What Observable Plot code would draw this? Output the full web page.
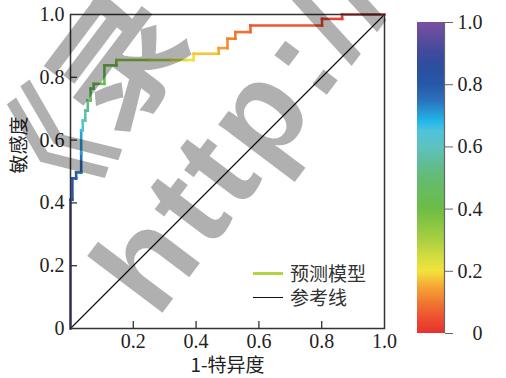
<!DOCTYPE html>
<html><head><meta charset="utf-8">
<script src="https://cdn.jsdelivr.net/npm/d3@7"></script>
<script src="https://cdn.jsdelivr.net/npm/@observablehq/plot@0.6"></script>
<style>
body{margin:0;background:#fff}
#wrap{position:relative;width:506px;height:378px;overflow:hidden;background:#fff}
#wrap svg{position:absolute;top:0;left:0}
#legend{position:absolute;left:253px;top:261px;font-family:'Noto Sans CJK SC',sans-serif;font-size:19px;color:#333;line-height:24px}
#legend .row{display:flex;align-items:center;height:24px}
#legend .sw{width:30px;margin-right:7px}
</style></head><body><div id="wrap"><div id="legend"></div></div>
<script>
// ROC curve vertices (1-specificity, sensitivity) and the threshold at each vertex
const fpr = [0,0,0.006,0.006,0.018,0.018,0.034,0.034,0.034,0.039,0.039,0.047,0.047,0.055,0.055,0.064,0.064,0.074,0.074,0.108,0.108,0.146,0.146,0.25,0.32,0.37,0.392,0.392,0.472,0.472,0.5,0.5,0.525,0.525,0.573,0.573,0.801,0.801,0.865,0.865,1];
const tpr = [0,0.41,0.41,0.478,0.478,0.497,0.497,0.557,0.631,0.631,0.662,0.662,0.694,0.694,0.726,0.726,0.764,0.764,0.779,0.779,0.838,0.838,0.855,0.855,0.855,0.855,0.855,0.875,0.875,0.893,0.893,0.923,0.923,0.944,0.944,0.965,0.965,0.986,0.986,1,1];
const thr = [1,0.86,0.85,0.81,0.8,0.79,0.78,0.74,0.67,0.65,0.62,0.6,0.57,0.55,0.51,0.49,0.45,0.44,0.43,0.42,0.41,0.4,0.39,0.33,0.27,0.22,0.2,0.19,0.16,0.145,0.13,0.115,0.105,0.095,0.085,0.075,0.04,0.03,0.02,0.01,0];
// reference (diagonal) line
const refX = [0,1];
const refY = [0,1];
// colour map stops
const colorStops = [0,0.05,0.1,0.15,0.2,0.25,0.3,0.4,0.5,0.55,0.6,0.65,0.68,0.75,0.8,0.85,0.9,1];
const colorRange = ["#e8312f","#ec5030","#f07a30","#f5a733","#f2e33b","#cfdc3f","#a9cf40","#6cbd45","#64bb72","#5fbd98","#5ec2c0","#4ec3dc","#22b8ea","#2a70bb","#2758a8","#2a4f9f","#3e4a9d","#7b4f9f"];
const axisTicks = [0,0.2,0.4,0.6,0.8,1];
const innerTicks = [0.2,0.4,0.6,0.8];
const xTickVals = [0.2,0.4,0.6,0.8,1];
const legendLabels = ["预测模型","参考线"];
const legendColors = ["#b5d443","#111"];
const xLabel = "1-特异度";
const yLabel = "敏感度";
const watermark = ["《录","http://"];

const fmt = d => d === 0 ? "0" : d.toFixed(1);
const colorScale = {type:"linear", domain:colorStops, range:colorRange, interpolate:"rgb"};
const segs = d3.range(fpr.length-1).map(i => ({x1:fpr[i], y1:tpr[i], x2:fpr[i+1], y2:tpr[i+1], t:(thr[i]+thr[i+1])/2}));
const serif = "Liberation Serif";
const cjk = "Noto Sans CJK SC";

const main = Plot.plot({
  width:400, height:378,
  marginLeft:70, marginRight:16, marginTop:14, marginBottom:50,
  style:{background:"transparent", overflow:"visible"},
  x:{domain:[0,1], label:null},
  y:{domain:[0,1], label:null},
  color:colorScale,
  marks:[
    Plot.link(segs, {x1:"x1", y1:"y1", x2:"x2", y2:"y2", stroke:"t", strokeWidth:2.6, strokeLinecap:"square"}),
    Plot.line(refX.map((x,i)=>({x, y:refY[i]})), {x:"x", y:"y", stroke:"#111", strokeWidth:1.2}),
    Plot.tickX(innerTicks, {x:d=>d, insetTop:307, stroke:"#333", strokeWidth:1.3}),
    Plot.tickY(innerTicks, {y:d=>d, insetRight:307, stroke:"#333", strokeWidth:1.3}),
    Plot.frame({stroke:"#333", strokeWidth:1.5}),
    Plot.axisX(xTickVals, {tickSize:0, tickPadding:5, tickFormat:fmt, label:null, fill:"#222", fontFamily:serif, fontSize:20}),
    Plot.axisY(axisTicks, {tickSize:0, tickPadding:6, tickFormat:fmt, label:null, fill:"#222", fontFamily:serif, fontSize:20}),
    Plot.text([xLabel], {frameAnchor:"bottom", dy:43, fontFamily:cjk, fontSize:19, fill:"#222"}),
    Plot.text([yLabel], {frameAnchor:"left", rotate:-90, dx:-51, dy:2, fontFamily:cjk, fontSize:19, fill:"#222"})
  ]
});

const rampStep = 0.002;
const ramp = d3.range(0, 1, rampStep);
const bar = Plot.plot({
  width:106, height:378,
  marginLeft:17, marginRight:62, marginTop:22, marginBottom:45,
  style:{background:"transparent", overflow:"visible"},
  x:{domain:[0,1], axis:null},
  y:{domain:[0,1], label:null},
  color:colorScale,
  marks:[
    Plot.rect(ramp, {x1:d=>0, x2:d=>1, y1:d=>d, y2:d=>Math.min(1, d+rampStep*1.6), fill:d=>d+rampStep/2, shapeRendering:"crispEdges"}),
    Plot.ruleX([1], {stroke:"#666", strokeWidth:1.2}),
    Plot.axisY(axisTicks, {anchor:"right", tickSize:8, tickFormat:()=>"", stroke:"#666", label:null}),
    Plot.axisY(axisTicks, {anchor:"right", tickSize:0, tickPadding:0, textAnchor:"end", dx:38, fill:"#222", tickFormat:fmt, label:null, fontFamily:serif, fontSize:20})
  ]
});

const wrap = document.getElementById("wrap");
wrap.insertBefore(main, wrap.firstChild);
bar.style.left = "400px";
wrap.insertBefore(bar, main.nextSibling);

// legend
const leg = document.getElementById("legend");
legendLabels.forEach((lab,i) => {
  const row = document.createElement("div");
  row.className = "row";
  const sw = document.createElement("div");
  sw.className = "sw";
  sw.style.borderTop = (i===0 ? "3px" : "1.2px") + " solid " + legendColors[i];
  const tx = document.createElement("span");
  tx.textContent = lab;
  row.appendChild(sw); row.appendChild(tx);
  leg.appendChild(row);
});

// watermark overlay
const wm = d3.select(wrap).append("svg").attr("width",506).attr("height",378).style("pointer-events","none");
const g = wm.append("g").attr("transform","translate(157,320) rotate(-53)").attr("fill","#000").attr("fill-opacity",0.31).attr("font-weight","bold");
g.append("text").attr("x",-11).attr("y",-139).attr("font-family",cjk).attr("font-size",130).text(watermark[0]);
g.append("text").attr("x",0).attr("y",0).attr("font-family","Liberation Sans").attr("font-size",130).attr("letter-spacing",6).text(watermark[1]);
</script></body></html>
